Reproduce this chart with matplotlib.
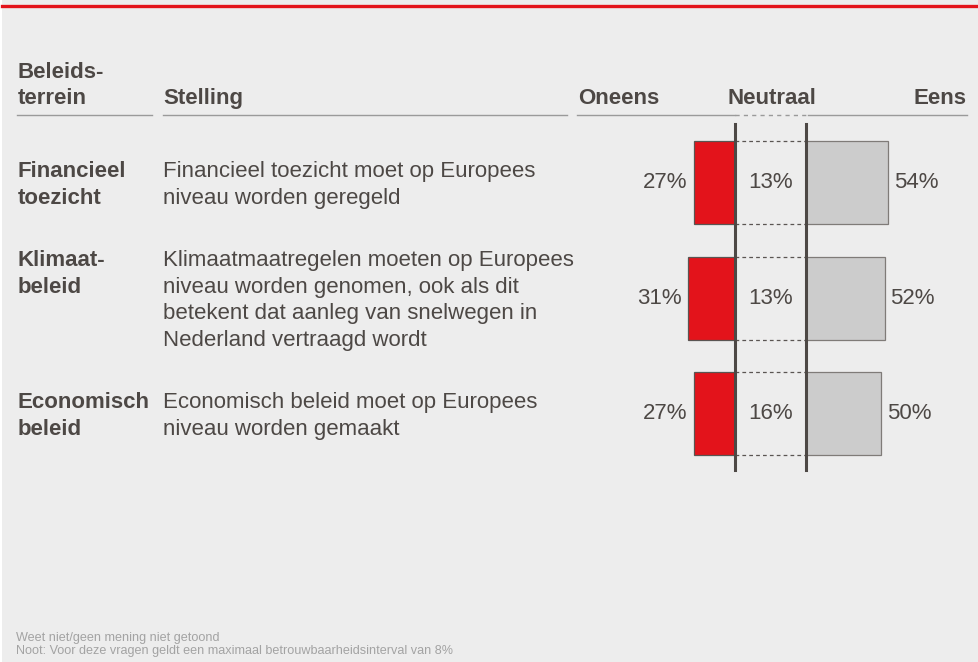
import matplotlib.pyplot as plt
from matplotlib.lines import Line2D
from matplotlib.patches import Rectangle

plt.rcParams['font.family'] = ['Liberation Sans', 'DejaVu Sans']

W, H = 979, 662
TXT = '#4d4845'
RED = '#e3131b'
GREY = '#cccccc'
BG = '#ededed'

# data
terreinen = ['Financieel\ntoezicht', 'Klimaat-\nbeleid', 'Economisch\nbeleid']
stellingen = [
    'Financieel toezicht moet op Europees\nniveau worden geregeld',
    'Klimaatmaatregelen moeten op Europees\nniveau worden genomen, ook als dit\n'
    'betekent dat aanleg van snelwegen in\nNederland vertraagd wordt',
    'Economisch beleid moet op Europees\nniveau worden gemaakt',
]
oneens = [27, 31, 27]
neutraal = [13, 13, 16]
eens = [54, 52, 50]
kolommen = ['Beleids-\nterrein', 'Stelling', 'Oneens', 'Neutraal', 'Eens']
noten = ['Weet niet/geen mening niet getoond',
         'Noot: Voor deze vragen geldt een maximaal betrouwbaarheidsinterval van 8%']

FS = 16
LS = 26.5  # px between text lines


def fx(x):
    return x / W


def fy(y):
    return 1 - y / H


fig = plt.figure(figsize=(W / 100, H / 100), dpi=100, facecolor='white')
fig.patches.append(Rectangle((fx(2), 0), 1, 1, transform=fig.transFigure,
                             facecolor=BG, edgecolor='none', zorder=-10))
fig.add_artist(Line2D([fx(2), 1], [fy(5.5), fy(5.5)], color=RED, lw=2.4))

# headers
hdr = dict(fontsize=FS, fontweight='bold', color=TXT, va='baseline')
for i, line in enumerate(kolommen[0].split('\n')):
    fig.text(fx(18), fy(78 + i * LS), line, **hdr)
fig.text(fx(163), fy(104), kolommen[1], **hdr)
fig.text(fx(578), fy(104), kolommen[2], **hdr)
fig.text(fx(772), fy(104), kolommen[3], ha='center', **hdr)
fig.text(fx(967), fy(104), kolommen[4], ha='right', **hdr)

rule = dict(color='#9a9a9a', lw=1.0)
for x0, x1 in [(17, 152), (163, 567), (577, 735), (808, 967)]:
    fig.add_artist(Line2D([fx(x0), fx(x1)], [fy(115), fy(115)], **rule))
fig.add_artist(Line2D([fx(735), fx(808)], [fy(115), fy(115)], ls=(0, (3, 3)), **rule))

# bar axes (x in percent, 1.51 px per percent)
PX = 1.51
AX_L, AX_R, AX_T, AX_B = 620, 960, 120, 475
ROW0, ROWSTEP = 182.5, 115.5
NEUTRAL_W = 71 / PX
ax = fig.add_axes([fx(AX_L), fy(AX_B), (AX_R - AX_L) / W, (AX_B - AX_T) / H])
ax.set_xlim(-(735 - AX_L) / PX, -(735 - AX_L) / PX + (AX_R - AX_L) / PX)
ax.set_ylim((AX_B - ROW0) / ROWSTEP, (AX_T - ROW0) / ROWSTEP)
ax.axis('off')

rows = list(range(len(oneens)))
bh = 83 / ROWSTEP
ax.barh(rows, [-v for v in oneens], height=bh, color=RED, edgecolor='#5a5552', lw=0.9)
ax.barh(rows, eens, left=NEUTRAL_W, height=bh, color=GREY, edgecolor='#7f7b78', lw=0.9)
for r in rows:
    for yy in (r - bh / 2, r + bh / 2):
        ax.plot([0, NEUTRAL_W], [yy, yy], color='#5a5552', lw=0.9, ls=(0, (3, 2.5)))
    ax.text(-oneens[r] - 4.5, r, f'{oneens[r]}%', ha='right', va='center', fontsize=FS, color=TXT)
    ax.text(NEUTRAL_W / 2, r, f'{neutraal[r]}%', ha='center', va='center', fontsize=FS, color=TXT)
    ax.text(NEUTRAL_W + eens[r] + 4, r, f'{eens[r]}%', ha='left', va='center', fontsize=FS, color=TXT)

vy0 = (AX_B - 470) / (AX_B - AX_T)
vy1 = (AX_B - 124) / (AX_B - AX_T)
for xv in (0, NEUTRAL_W):
    ax.axvline(xv, ymin=vy0, ymax=vy1, color=TXT, lw=2.2, zorder=5)

# row texts: statement centred on the bar, policy area starts on the same line
for r in rows:
    yc = ROW0 + ROWSTEP * r
    lines = stellingen[r].split('\n')
    y0 = yc - (len(lines) - 1) / 2 * LS + 8
    for i, line in enumerate(lines):
        fig.text(fx(163), fy(y0 + i * LS), line, fontsize=FS, color=TXT, va='baseline')
    for i, line in enumerate(terreinen[r].split('\n')):
        fig.text(fx(18), fy(y0 + i * LS), line, fontsize=FS, color=TXT,
                 fontweight='bold', va='baseline')

for i, n in enumerate(noten):
    fig.text(fx(16), fy(641 + i * 13), n, fontsize=9.1, color='#a3a3a3', va='baseline')

fig.savefig('out.png', dpi=100, facecolor=fig.get_facecolor())
